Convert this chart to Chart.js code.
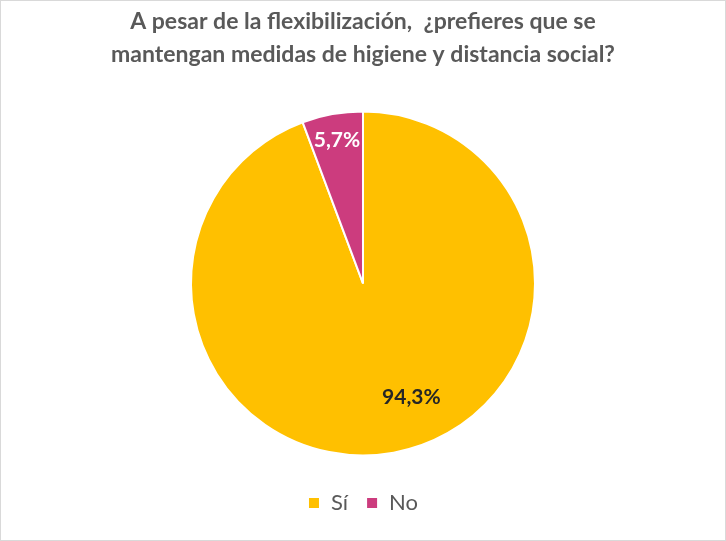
<!DOCTYPE html>
<html>
<head>
<meta charset="utf-8">
<script src="https://cdn.jsdelivr.net/npm/chart.js@4"></script>
<style>
  html, body { margin: 0; padding: 0; background: #fff; }
  #wrap { width: 724px; height: 539px; border: 1px solid #d9d9d9; }
</style>
</head>
<body>
<div id="wrap"><canvas id="myChart" width="724" height="539"></canvas></div>
<script>
const titleLines = ['A pesar de la flexibilización,  ¿prefieres que se', 'mantengan medidas de higiene y distancia social?'];
const categories = ['Sí', 'No'];
const values = [94.3, 5.7];
const colors = ['#FFC000', '#CC3C7E'];
const labelColors = ['#262626', '#ffffff'];

// where each percentage sits: angle in degrees clockwise from top, fraction of radius
const labelPlacement = [{ angle: 157, r: 0.72 }, { angle: 349.7, r: 0.845 }];

const pctLabels = {
  id: 'pctLabels',
  afterDatasetsDraw(chart) {
    const ctx = chart.ctx;
    const meta = chart.getDatasetMeta(0);
    meta.data.forEach((arc, i) => {
      const p = labelPlacement[i];
      const a = p.angle * Math.PI / 180;
      const x = arc.x + Math.sin(a) * arc.outerRadius * p.r;
      const y = arc.y - Math.cos(a) * arc.outerRadius * p.r;
      ctx.save();
      ctx.font = 'bold 21px Lato, "Open Sans", sans-serif';
      ctx.fillStyle = labelColors[i];
      ctx.textAlign = 'center';
      ctx.textBaseline = 'middle';
      ctx.fillText(values[i].toFixed(1).replace('.', ',') + '%', x, y);
      ctx.restore();
    });
  }
};

const ctx = document.getElementById('myChart');
new Chart(ctx, {
  type: 'pie',
  data: {
    labels: categories,
    datasets: [{
      data: values,
      backgroundColor: colors,
      borderColor: '#ffffff',
      borderWidth: 2,
      radius: 172
    }]
  },
  options: {
    responsive: false,
    animation: false,
    layout: { padding: { top: 0, bottom: 16 } },
    plugins: {
      title: {
        display: true,
        text: titleLines,
        color: '#595959',
        font: { family: 'Lato, "Open Sans", sans-serif', size: 23, weight: 'bold', lineHeight: 1.43 },
        padding: { top: 4, bottom: 22 }
      },
      legend: {
        position: 'bottom',
        labels: {
          color: '#595959',
          font: { family: 'Lato, "Open Sans", sans-serif', size: 22 },
          usePointStyle: true,
          pointStyle: 'rect',
          boxWidth: 12,
          boxHeight: 12,
          padding: 18
        }
      },
      tooltip: { enabled: false }
    }
  },
  plugins: [pctLabels]
});
</script>
</body>
</html>
